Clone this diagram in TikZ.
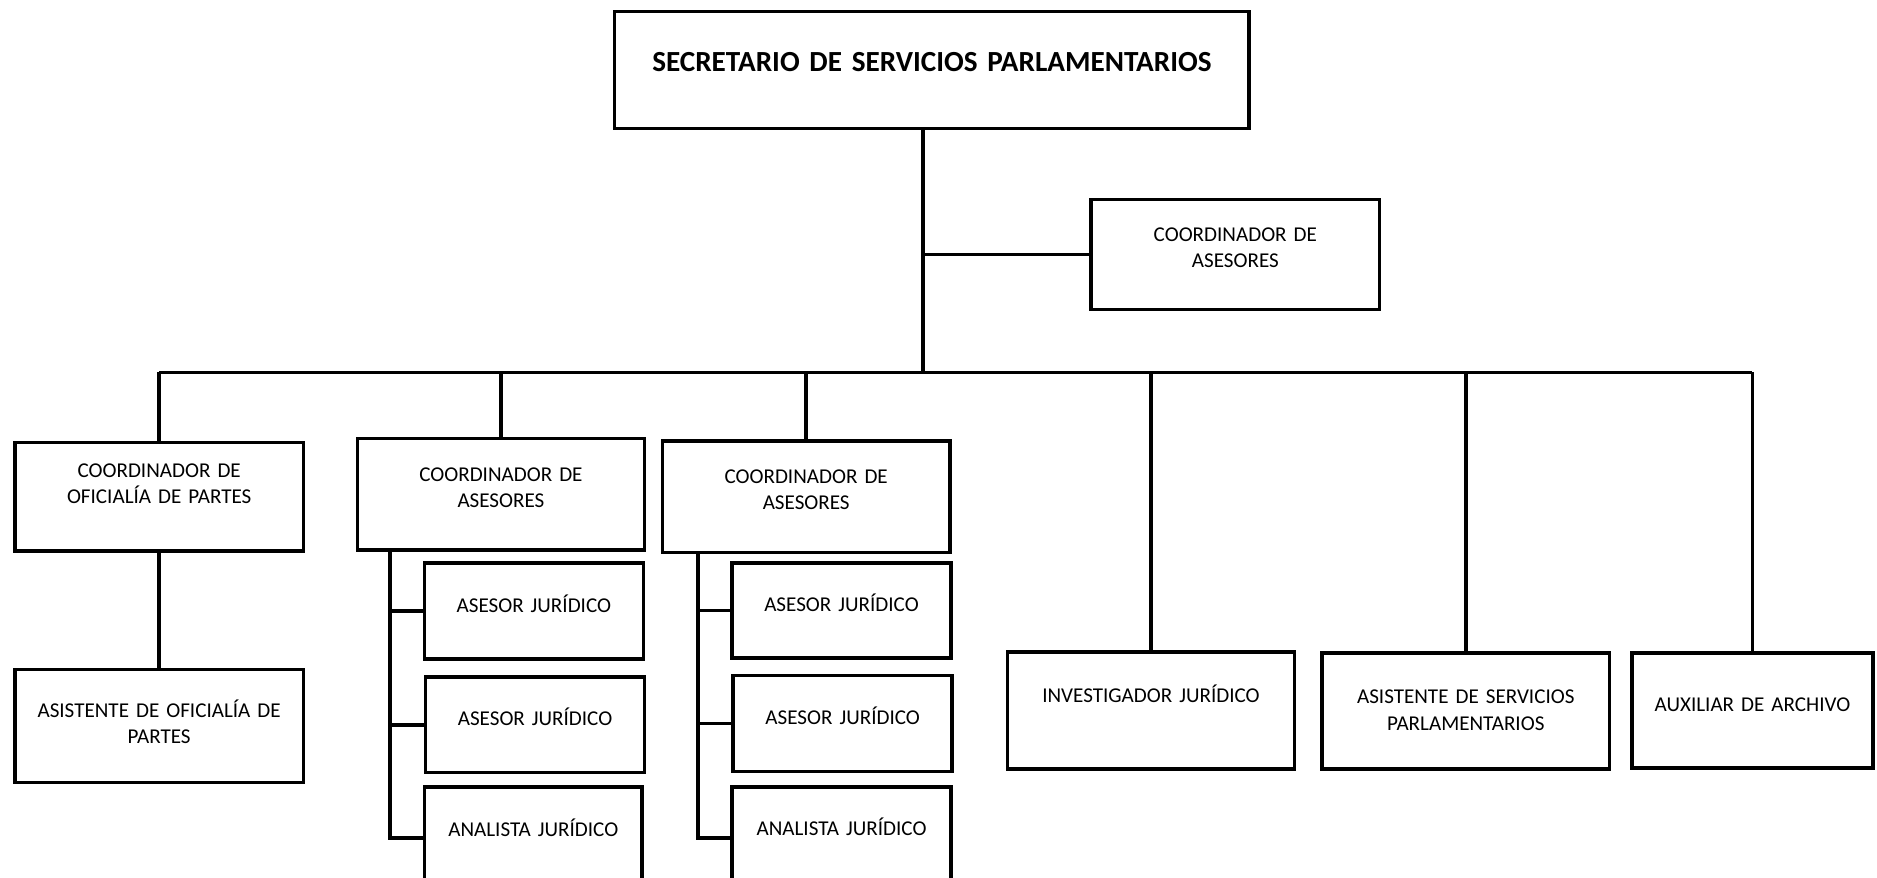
\documentclass[tikz,border=0pt]{standalone}
\usepackage{fontspec}
\setmainfont{Carlito}
\usepackage{tikz}
\usetikzlibrary{calc, positioning}
\newlength\gu
\setlength\gu{0.2394mm}

\begin{document}
\begin{tikzpicture}[x=1\gu, y=-1\gu,
  box/.style={draw, line width=2pt, anchor=north west, inner sep=0pt, align=center,
              font=\fontsize{12}{14.9}\selectfont},
  sz/.style n args={3}{text width=#1\gu, text height=#2\gu, text depth=#3\gu},
  link/.style={line width=2pt}]
  \useasboundingbox (0,0) rectangle (1568,733);
  \clip (0,0) rectangle (1568,733);
  % top and side boxes
  \node[box, sz={530}{50}{48}, font=\fontsize{16.6}{20}\selectfont\bfseries] (sec) at (512,8)
    {SECRETARIO DE SERVICIOS PARLAMENTARIOS};
  \node[box, sz={241}{35.5}{56.5}] (side) at (910,165) {COORDINADOR DE\\ASESORES};
  % second level
  \node[box, sz={241}{29.5}{61.5}] (c1) at (11,368) {COORDINADOR DE\\OFICIALÍA DE PARTES};
  \node[box, sz={240}{35.5}{57.5}] (c2) at (297,365) {COORDINADOR DE\\ASESORES};
  \node[box, sz={240}{35.5}{57.5}] (c3) at (552,367) {COORDINADOR DE\\ASESORES};
  \node[box, sz={240}{42.5}{55.5}] (inv) at (840,543) {INVESTIGADOR JURÍDICO};
  \node[box, sz={240}{42.5}{54.5}] (asv) at (1103,544) {ASISTENTE DE SERVICIOS\\PARLAMENTARIOS};
  \node[box, sz={201}{48.5}{47.5}] (aux) at (1362,544) {AUXILIAR DE ARCHIVO};
  % third level
  \node[box, sz={241}{39.5}{54.5}] (aop) at (11,558) {ASISTENTE DE OFICIALÍA DE\\PARTES};
  \node[box, sz={183}{41.5}{38.5}] (aj21) at (353,469) {ASESOR JURÍDICO};
  \node[box, sz={183}{40.5}{39.5}] (aj22) at (354,564) {ASESOR JURÍDICO};
  \node[box, sz={182}{41.5}{43.5}] (an2) at (353,656) {ANALISTA JURÍDICO};
  \node[box, sz={183}{40.5}{38.5}] (aj31) at (610,469) {ASESOR JURÍDICO};
  \node[box, sz={183}{40.5}{39.5}] (aj32) at (611,563) {ASESOR JURÍDICO};
  \node[box, sz={183}{40.5}{44.5}] (an3) at (610,656) {ANALISTA JURÍDICO};
  % trunk and bus
  \coordinate (hub) at (771,311);
  \draw[link] (sec.south -| hub) -- (hub);
  \draw[link] (side.west -| hub) -- (side.west);
  \draw[link] (c1.north |- hub) -- (aux.north |- hub);
  \foreach \b in {c1, c2, c3, inv, asv, aux}
    \draw[link] (\b.north |- hub) -- (\b.north);
  \draw[link] (c1.south) -- (aop.north);
  % sub trees
  \coordinate (s2) at ([xshift=29\gu]c2.south west);
  \coordinate (s3) at ([xshift=31\gu]c3.south west);
  \draw[link] (s2) |- (an2.west);
  \draw[link] (s3) |- (an3.west);
  \foreach \b in {aj21, aj22}
    \draw[link] (s2 |- \b.west) -- (\b.west);
  \foreach \b in {aj31, aj32}
    \draw[link] (s3 |- \b.west) -- (\b.west);
\end{tikzpicture}
\end{document}
